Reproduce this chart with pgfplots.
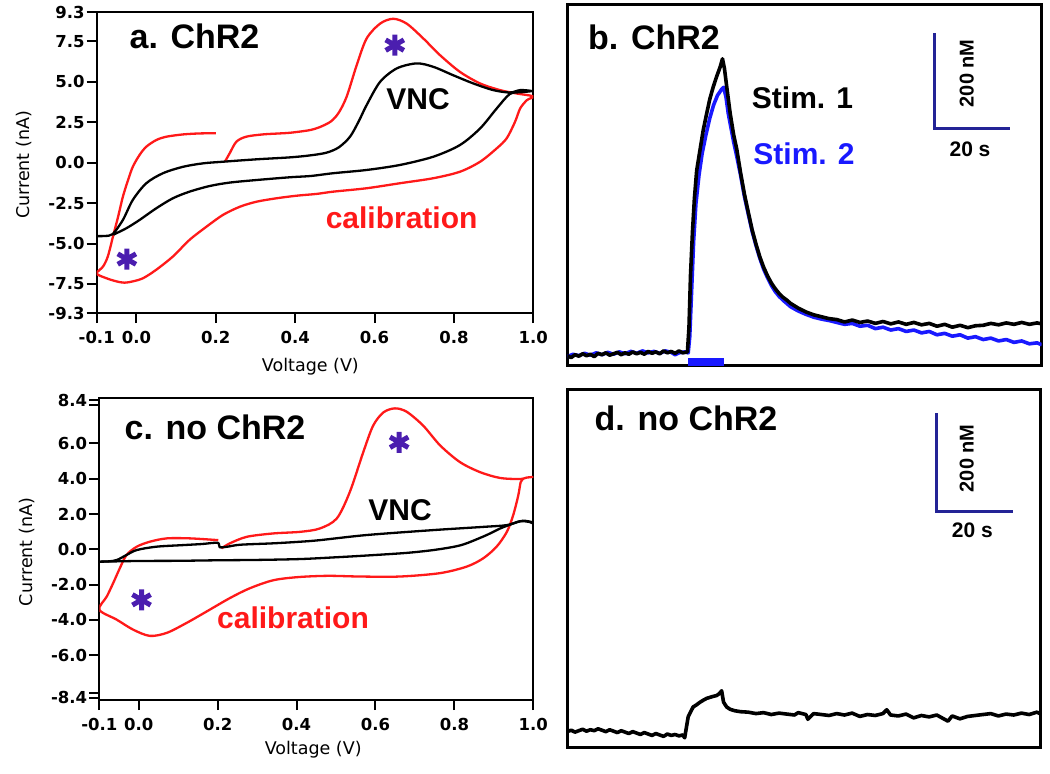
\documentclass[border=0pt]{standalone}
\usepackage{pgfplots}
\pgfplotsset{compat=1.18}
\usepackage{fontspec}
\setmainfont{Liberation Sans}
\newfontfamily\dejavu{DejaVu Sans}
\definecolor{cvred}{RGB}{255,25,25}
\definecolor{astcol}{RGB}{75,30,175}
\definecolor{barblue}{RGB}{35,35,150}
\definecolor{stimblue}{RGB}{25,25,255}
\begin{document}
\begin{tikzpicture}
\path[use as bounding box] (0pt,0pt) rectangle (1050pt,774pt);
\pgfplotsset{
 cvaxis/.style={scale only axis, clip=true, axis line style={line width=2.2pt},
  tick align=outside, tick pos=left, major tick length=10pt,
  tick style={line width=2pt, black},
  ticklabel style={font=\dejavu\bfseries\fontsize{16.5}{16.5}\selectfont},
  yticklabel style={inner sep=2pt},
  xticklabel style={inner sep=2pt, yshift=-6pt},
  xmin=-0.1, xmax=1.0,
  xtick={-0.1,0,0.2,0.4,0.6,0.8,1.0},
  xticklabels={-0.1,0.0,0.2,0.4,0.6,0.8,1.0}},
 traxis/.style={scale only axis, clip=true, axis line style={line width=3pt},
  xtick=\empty, ytick=\empty, xmin=0},
 cvline/.style={line width=2.3pt, smooth, tension=0.5, line join=round},
 trline/.style={line width=3.6pt, line join=round},
 ast/.style={only marks, mark=asterisk, mark size=10.5pt, color=astcol, mark options={line width=5pt}},
}
% ---------------- panel a ----------------
\begin{axis}[cvaxis, at={(96.7pt,460.9pt)}, anchor=south west,
  width=436.6pt, height=300.8pt, ymin=-9.3, ymax=9.3,
  ytick={-9.3,-7.5,-5,-2.5,0,2.5,5,7.5,9.3},
  yticklabels={-9.3,-7.5,-5.0,-2.5,0.0,2.5,5.0,7.5,9.3}]
\addplot[cvline, cvred] coordinates {(0.200,1.82) (0.160,1.81) (0.118,1.75) (0.076,1.61) (0.050,1.40) (0.025,0.99) (0.008,0.48) (-0.009,-0.25) (-0.021,-1.07) (-0.034,-2.10) (-0.046,-3.33) (-0.059,-4.57) (-0.072,-5.80) (-0.084,-6.42) (-0.100,-6.85) (-0.076,-7.14) (-0.050,-7.34) (-0.030,-7.42) (-0.009,-7.34) (0.017,-7.14) (0.050,-6.62) (0.092,-5.80) (0.134,-4.77) (0.177,-3.95) (0.218,-3.23) (0.261,-2.72) (0.303,-2.41) (0.353,-2.20) (0.404,-2.04) (0.454,-1.93) (0.496,-1.79) (0.580,-1.58) (0.664,-1.27) (0.748,-0.96) (0.815,-0.56) (0.866,0.06) (0.908,0.89) (0.933,1.51) (0.954,2.53) (0.967,3.36) (0.984,3.87) (1.000,4.10) (0.958,4.28) (0.916,4.49) (0.866,4.90) (0.815,5.62) (0.765,6.65) (0.723,7.68) (0.681,8.60) (0.647,8.90) (0.614,8.60) (0.580,7.68) (0.555,6.03) (0.530,4.10) (0.510,3.10) (0.490,2.55) (0.462,2.20) (0.440,2.03) (0.420,1.95) (0.387,1.85) (0.361,1.81) (0.319,1.75) (0.277,1.61) (0.252,1.30) (0.235,0.58) (0.223,0.06)};
\addplot[cvline, black] coordinates {(-0.100,-4.54) (-0.080,-4.53) (-0.060,-4.42) (-0.034,-3.54) (-0.009,-2.30) (0.025,-1.27) (0.067,-0.65) (0.118,-0.25) (0.168,-0.04) (0.218,0.06) (0.303,0.21) (0.387,0.33) (0.437,0.45) (0.479,0.62) (0.510,0.95) (0.538,1.60) (0.560,2.55) (0.580,3.56) (0.614,5.00) (0.656,5.83) (0.706,6.14) (0.748,5.93) (0.798,5.41) (0.849,4.90) (0.899,4.49) (0.941,4.34) (0.967,4.49) (0.996,4.43) (0.970,4.36) (0.941,4.25) (0.908,3.36) (0.866,2.12) (0.815,1.09) (0.748,0.37) (0.664,-0.14) (0.580,-0.45) (0.496,-0.65) (0.440,-0.82) (0.387,-0.90) (0.303,-1.07) (0.235,-1.23) (0.185,-1.44) (0.134,-1.79) (0.092,-2.20) (0.050,-2.82) (0.008,-3.54) (-0.025,-4.05) (-0.058,-4.45)};
\addplot[ast] coordinates {(0.651,7.27) (-0.024,-5.96)};
\end{axis}
% ---------------- panel c ----------------
\begin{axis}[cvaxis, at={(99.3pt,74pt)}, anchor=south west,
  width=434pt, height=301.7pt, ymin=-8.53, ymax=8.55,
  ytick={-8.40,-8.12,-6,-4,-2,0,2,4,6,8.17,8.45},
  yticklabels={-8.4,,-6.0,-4.0,-2.0,0.0,2.0,4.0,6.0,,8.4}]
\addplot[cvline, cvred] coordinates {(0.2015,0.52) (0.130,0.62) (0.071,0.62) (0.028,0.43) (-0.005,0.15) (-0.031,-0.32) (-0.048,-1.07) (-0.065,-1.92) (-0.081,-2.67) (-0.100,-3.42) (-0.056,-3.98) (-0.014,-4.55) (0.028,-4.90) (0.071,-4.73) (0.121,-4.17) (0.172,-3.52) (0.231,-2.76) (0.282,-2.20) (0.341,-1.75) (0.405,-1.57) (0.480,-1.50) (0.561,-1.54) (0.662,-1.54) (0.763,-1.35) (0.831,-0.98) (0.873,-0.51) (0.907,0.15) (0.933,0.99) (0.949,1.93) (0.962,3.06) (0.968,3.80) (0.975,4.00)};
\addplot[cvline, cvred] coordinates {(1.0,4.10) (0.983,4.06) (0.966,3.98) (0.916,4.04) (0.865,4.37) (0.814,4.94) (0.764,5.88) (0.721,7.00) (0.679,7.79) (0.649,7.98) (0.620,7.75) (0.594,7.00) (0.569,5.50) (0.535,3.25) (0.502,1.75) (0.459,1.18) (0.409,0.99) (0.341,0.90) (0.274,0.71) (0.231,0.34) (0.210,0.06)};
\addplot[cvline, black] coordinates {(-0.100,-0.70) (-0.075,-0.68) (-0.055,-0.60) (-0.031,-0.32) (-0.005,-0.04) (0.045,0.15) (0.113,0.24) (0.160,0.30) (0.200,0.37) (0.205,0.12) (0.225,0.15) (0.257,0.26) (0.341,0.34) (0.409,0.43) (0.459,0.52) (0.578,0.81) (0.747,1.09) (0.873,1.27) (0.933,1.37) (0.966,1.59) (0.99,1.55) (1.0,1.45)};
\addplot[cvline, black] coordinates {(-0.100,-0.70) (0.0,-0.66) (0.1,-0.65) (0.2,-0.62) (0.3,-0.60) (0.41,-0.55) (0.50,-0.45) (0.578,-0.35) (0.68,-0.20) (0.747,-0.04) (0.80,0.15) (0.831,0.34) (0.882,0.81) (0.916,1.18) (0.949,1.46) (0.975,1.62) (1.0,1.52)};
\addplot[ast] coordinates {(0.660,6.06) (0.007,-2.86)};
\end{axis}
% ---------------- panel b ----------------
\begin{axis}[traxis, at={(567.3pt,408pt)}, anchor=south west,
  width=474.4pt, height=361pt, xmax=123.2, ymin=-61.7, ymax=698.3]
\addplot[trline, stimblue] coordinates {(0,-42) (1.5,-37) (3,-40) (4.5,-35) (6,-39) (7.5,-34) (9,-38) (10.5,-33) (12,-37) (13.5,-32) (15,-36) (16.5,-31) (18,-35) (19.5,-30) (21,-34) (22.5,-31) (24,-35) (25.5,-30) (27,-33) (28,-38) (29,-34) (30.5,-32) (31.4,-34) (31.8,0) (32.3,100) (32.8,200) (33.4,280) (34.2,340) (35.0,385) (36.0,425) (37.0,460) (38.0,488) (39.0,508) (40.0,520) (40.6,525) (41.2,505) (41.8,470) (42.5,440) (43.2,410) (44.0,380) (45,340) (46,295) (47,258) (48,222) (49,192) (50,165) (51,142) (52,124) (53,108) (54,95) (55,85) (56,77) (57,70) (58,63) (60,54) (62,47) (64,41) (66,37) (68,34) (70,30) (72,26) (74,28) (76,22) (78,24) (80,17) (82,20) (84,14) (86,17) (88,11) (90,14) (92,8) (94,11) (96,4) (98,7) (100,1) (102,4) (104,-3) (106,0) (108,-6) (110,-3) (112,-9) (114,-6) (116,-12) (118,-9) (120,-15) (122,-13) (123.2,-17)};
\addplot[trline, black] coordinates {(0,-40) (1,-44) (2,-38) (3,-41) (4,-36) (5,-40) (6,-37) (7,-42) (8,-35) (9,-38) (10,-34) (11,-39) (12,-36) (13,-33) (14,-38) (15,-34) (16,-37) (17,-32) (18,-36) (19,-33) (20,-37) (21,-31) (22,-35) (23,-32) (24,-36) (25,-30) (26,-34) (27,-31) (28,-35) (29,-30) (30,-34) (31.2,-32) (31.6,20) (32.0,130) (32.5,220) (33.0,290) (33.6,350) (34.5,395) (35.3,435) (36.2,470) (37.0,500) (37.9,526) (38.8,548) (39.7,568) (40.3,585) (40.8,565) (41.5,520) (42.3,470) (43.2,425) (44.0,395) (45.0,345) (46.0,300) (47.0,262) (48.0,225) (49.0,195) (50.0,168) (51.0,146) (52.0,128) (53.0,113) (54.0,101) (55.0,91) (56.0,83) (57.0,77) (58.0,70) (60,60) (62,52) (64,46) (66,42) (68,38) (70,36) (72,31) (74,35) (76,30) (78,33) (80,28) (82,32) (84,27) (86,31) (88,26) (90,30) (92,25) (94,28) (96,22) (98,26) (100,20) (102,24) (104,19) (106,23) (108,24) (110,28) (112,25) (114,29) (116,26) (118,30) (120,26) (122,29) (123.2,27)};
\addplot[stimblue, line width=7.7pt] coordinates {(31.4,-53.3) (40.8,-53.3)};
\addplot[barblue, line width=2.5pt] coordinates {(95.3,638.7) (95.3,438.7) (115.0,438.7)};
\end{axis}
% ---------------- panel d ----------------
\begin{axis}[traxis, at={(567.3pt,26.5pt)}, anchor=south west,
  width=473.4pt, height=358.2pt, xmax=123.0, ymin=-47.4, ymax=706.7]
\addplot[trline, black] coordinates {(0,-14) (1,-11) (2,-15) (3,-12) (4,-9) (5,-13) (6,-10) (7,-12) (8,-8) (9,-11) (10,-14) (11,-10) (12,-13) (13,-16) (14,-12) (15,-15) (16,-18) (17,-14) (18,-17) (19,-20) (20,-16) (21,-19) (22,-22) (23,-18) (24,-21) (25,-24) (26,-19) (27,-22) (28,-20) (29,-23) (30,-21) (30.5,-27) (31.4,17) (32.2,30) (32.7,38) (33.5,42) (34.5,48) (35.3,52) (36.2,56) (37.0,58) (37.8,60) (38.8,62) (39.5,66) (40.1,72) (40.6,48) (41.4,38) (42.3,33) (43.5,30) (45,28) (47,27) (49,24) (51,26) (53,22) (55,25) (57,23) (59,21) (60,26) (62,22) (62.5,12) (64,24) (66,22) (68,20) (70,24) (72,21) (74,25) (76,18) (78,22) (80,20) (82,24) (83,32) (84,21) (86,19) (88,23) (90,15) (92,20) (94,17) (96,21) (98.9,8) (100,19) (102,13) (104,18) (106,20) (108,22) (110,24) (112,19) (114,23) (116,21) (118,25) (120,22) (122,27) (123,23)};
\addplot[barblue, line width=2.5pt] coordinates {(95.9,656) (95.9,449) (115.7,449)};
\end{axis}
% ---------------- text ----------------
\begin{scope}[every node/.style={inner sep=0pt}]
\node[anchor=base, font=\bfseries\fontsize{34}{34}\selectfont] at (194.5pt,725.5pt) {a. ChR2};
\node[anchor=base, font=\bfseries\fontsize{34}{34}\selectfont] at (654pt,724.7pt) {b. ChR2};
\node[anchor=base, font=\bfseries\fontsize{34}{34}\selectfont] at (215pt,334pt) {c. no ChR2};
\node[anchor=base, font=\bfseries\fontsize{34}{34}\selectfont] at (686pt,343.3pt) {d. no ChR2};
\node[anchor=base, font=\bfseries\fontsize{30}{30}\selectfont] at (418pt,664pt) {VNC};
\node[anchor=base, font=\bfseries\fontsize{30}{30}\selectfont] at (400pt,253pt) {VNC};
\node[anchor=base, font=\bfseries\fontsize{30}{30}\selectfont, text=cvred] at (401.6pt,545.7pt) {calibration};
\node[anchor=base, font=\bfseries\fontsize{30}{30}\selectfont, text=cvred] at (293pt,145.7pt) {calibration};
\node[anchor=base, font=\bfseries\fontsize{30}{30}\selectfont] at (802.5pt,665.7pt) {Stim. 1};
\node[anchor=base, font=\bfseries\fontsize{30}{30}\selectfont, text=stimblue] at (804pt,609pt) {Stim. 2};
\node[rotate=90, font=\bfseries\fontsize{20}{20}\selectfont] at (966.7pt,700.7pt) {200 nM};
\node[font=\bfseries\fontsize{21}{21}\selectfont] at (970pt,624.7pt) {20 s};
\node[rotate=90, font=\bfseries\fontsize{20}{20}\selectfont] at (966.7pt,315.7pt) {200 nM};
\node[font=\bfseries\fontsize{21}{21}\selectfont] at (972.3pt,244pt) {20 s};
\node[font=\dejavu\fontsize{17.5}{17.5}\selectfont] at (310.4pt,407pt) {Voltage (V)};
\node[font=\dejavu\fontsize{17.5}{17.5}\selectfont] at (313.2pt,24pt) {Voltage (V)};
\node[rotate=90, font=\dejavu\fontsize{17.5}{17.5}\selectfont] at (24pt,609pt) {Current (nA)};
\node[rotate=90, font=\dejavu\fontsize{17.5}{17.5}\selectfont] at (27pt,222pt) {Current (nA)};
\end{scope}
\end{tikzpicture}
\end{document}
